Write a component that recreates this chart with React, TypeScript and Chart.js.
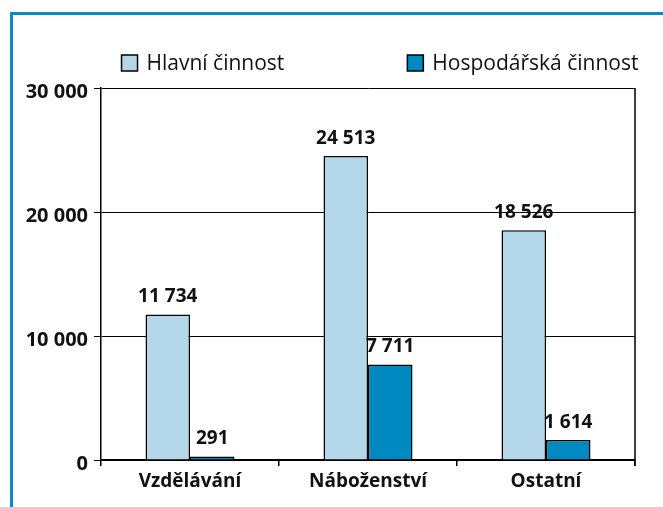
import React, { useEffect, useRef } from "react";
import { Chart, registerables } from "chart.js";

Chart.register(...registerables);

const categories = ["Vzdělávání", "Náboženství", "Ostatní"];
const seriesNames = ["Hlavní činnost", "Hospodářská činnost"];
const mainValues = [11734, 24513, 18526];
const businessValues = [291, 7711, 1614];
const yTicks = [0, 10000, 20000, 30000];

const LIGHT = "#b3d7e8";
const DARK = "#0088c0";
const FONT = "'Open Sans', 'Noto Sans', sans-serif";

const fmt = (v: number) => {
  const s = Math.round(v).toString();
  return s.replace(/\B(?=(\d{3})+(?!\d))/g, " ");
};

const labelsPlugin = {
  id: "valueLabels",
  afterDatasetsDraw(chart: any) {
    const ctx = chart.ctx;
    ctx.save();
    ctx.font = `bold 19px ${FONT}`;
    ctx.fillStyle = "#111";
    ctx.textAlign = "center";
    ctx.textBaseline = "alphabetic";
    chart.data.datasets.forEach((ds: any, di: number) => {
      const meta = chart.getDatasetMeta(di);
      meta.data.forEach((el: any, i: number) => {
        ctx.fillText(fmt(ds.data[i]), el.x, el.y - 12);
      });
    });
    ctx.restore();
  },
};

const framePlugin = {
  id: "frameAndLegend",
  afterDraw(chart: any) {
    const ctx = chart.ctx;
    const a = chart.chartArea;
    ctx.save();
    // right border of plot
    ctx.strokeStyle = "#000";
    ctx.lineWidth = 1.5;
    ctx.beginPath();
    ctx.moveTo(a.right, a.top);
    ctx.lineTo(a.right, a.bottom + 6);
    ctx.stroke();
    // legend
    ctx.font = `21px ${FONT}`;
    ctx.textBaseline = "middle";
    ctx.textAlign = "left";
    const box = 16;
    const gap = 9;
    const between = 123;
    const colors = [LIGHT, DARK];
    const widths = seriesNames.map((n) => box + gap + ctx.measureText(n).width);
    const total = widths[0] + between + widths[1];
    let x = (a.left + a.right) / 2 + 12 - total / 2;
    const y = a.top - 25;
    seriesNames.forEach((n, i) => {
      ctx.fillStyle = colors[i];
      ctx.fillRect(x, y - box / 2, box, box);
      ctx.lineWidth = 1.5;
      ctx.strokeStyle = "#000";
      ctx.strokeRect(x, y - box / 2, box, box);
      ctx.fillStyle = "#111";
      ctx.fillText(n, x + box + gap, y + 1);
      x += widths[i] + between;
    });
    ctx.restore();
  },
};

export default function App() {
  const ref = useRef<HTMLCanvasElement>(null);
  useEffect(() => {
    if (!ref.current) return;
    const chart = new Chart(ref.current, {
      type: "bar",
      data: {
        labels: categories,
        datasets: [
          {
            label: seriesNames[0],
            data: mainValues,
            backgroundColor: LIGHT,
            borderColor: "#000",
            borderWidth: 1.5,
          },
          {
            label: seriesNames[1],
            data: businessValues,
            backgroundColor: DARK,
            borderColor: "#000",
            borderWidth: 1.5,
          },
        ],
      },
      options: {
        animation: false,
        responsive: false,
        maintainAspectRatio: false,
        layout: { padding: { top: 88, right: 28, bottom: 14, left: 20 } },
        plugins: { legend: { display: false }, tooltip: { enabled: false } },
        datasets: { bar: { categoryPercentage: 0.5, barPercentage: 1 } },
        scales: {
          x: {
            grid: {
              offset: true,
              drawOnChartArea: false,
              color: "#000",
              lineWidth: 1.5,
              tickLength: 6,
            },
            border: { color: "#000", width: 1.5 },
            ticks: {
              color: "#111",
              font: { family: FONT, size: 19, weight: "bold" },
              padding: 4,
            },
            afterFit(scale: any) {
              scale.height = 33;
            },
          },
          y: {
            min: 0,
            max: 30000,
            afterBuildTicks(scale: any) {
              scale.ticks = yTicks.map((v) => ({ value: v }));
            },
            grid: { color: "#000", lineWidth: 1, tickLength: 7 },
            border: { color: "#000", width: 1.5 },
            ticks: {
              color: "#111",
              font: { family: FONT, size: 20, weight: "bold" },
              padding: 6,
              labelOffset: 4,
              callback: (v: any) => fmt(Number(v)),
            },
            afterFit(scale: any) {
              scale.width = 81;
            },
          },
        },
      },
      plugins: [labelsPlugin, framePlugin],
    });
    return () => chart.destroy();
  }, []);
  return (
    <div style={{ position: "fixed", left: 0, top: 0, width: 663, height: 507, background: "#fff" }}>
      <div
        style={{
          position: "absolute",
          left: 10,
          top: 12,
          width: 700,
          height: 600,
          borderTop: "3px solid #0a8ac8",
          borderLeft: "3px solid #0a8ac8",
        }}
      />
      <canvas ref={ref} width={663} height={507} style={{ position: "absolute", left: 0, top: 0 }} />
    </div>
  );
}
